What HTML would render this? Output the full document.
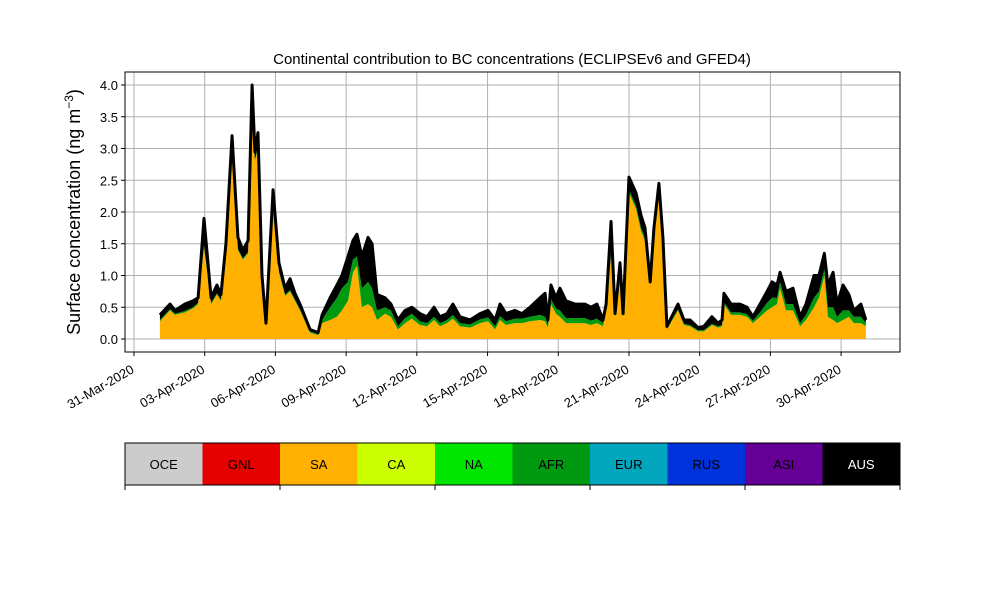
<!DOCTYPE html>
<html><head><meta charset="utf-8"><style>
body{margin:0;background:#fff;font-family:"Liberation Sans","DejaVu Sans",sans-serif}
</style></head><body>
<svg id="chart" width="1000" height="600" xmlns="http://www.w3.org/2000/svg" font-family="Liberation Sans, DejaVu Sans, sans-serif">
<text x="512" y="64" text-anchor="middle" font-size="15">Continental contribution to BC concentrations (ECLIPSEv6 and GFED4)</text>
<text transform="translate(80,212) rotate(-90)" text-anchor="middle" font-size="18">Surface concentration (ng m<tspan baseline-shift="super" font-size="12">−3</tspan>)</text>
<g id="grid"></g>
<g id="areas"></g>
<rect x="125" y="72" width="775" height="280" fill="none" stroke="#000" stroke-width="1"/>
<g id="axes"></g>
<g id="legend"></g>
</svg>
<script>
const days=[1.10,1.53,1.74,2.16,2.50,2.72,2.97,3.27,3.52,3.69,3.90,4.16,4.41,4.62,4.84,5.01,5.13,5.26,5.43,5.60,5.90,6.15,6.41,6.62,6.83,7.04,7.47,7.81,7.98,8.32,8.61,8.82,9.08,9.29,9.46,9.67,9.93,10.10,10.31,10.65,10.90,11.20,11.50,11.79,12.13,12.43,12.73,12.98,13.28,13.53,13.83,14.26,14.68,15.02,15.32,15.53,15.78,16.16,16.46,16.80,17.23,17.44,17.56,17.69,17.90,18.07,18.33,18.71,19.13,19.39,19.64,19.90,20.03,20.24,20.41,20.62,20.75,21.00,21.30,21.51,21.68,21.90,22.06,22.27,22.44,22.61,23.08,23.33,23.59,23.93,24.18,24.52,24.78,24.95,25.03,25.33,25.71,26.01,26.26,26.56,26.86,27.07,27.28,27.41,27.66,27.96,28.26,28.51,28.85,29.06,29.29,29.44,29.66,29.83,30.08,30.33,30.54,30.84,31.05];
const total=[.38,.55,.45,.55,.6,.65,1.9,.65,.85,.7,1.5,3.2,1.6,1.4,1.55,4.0,2.95,3.25,1.0,.25,2.35,1.2,.8,.95,.72,.55,.15,.1,.38,.65,.85,1.0,1.3,1.55,1.65,1.3,1.6,1.5,.7,.65,.55,.3,.45,.5,.4,.35,.5,.35,.4,.55,.35,.3,.4,.45,.3,.55,.4,.45,.4,.5,.65,.72,.3,.85,.65,.8,.6,.55,.55,.5,.55,.3,.55,1.85,.4,1.2,.4,2.55,2.3,1.95,1.75,.9,1.75,2.45,1.6,.2,.55,.3,.3,.18,.2,.35,.25,.3,.72,.55,.55,.5,.35,.55,.75,.9,.85,1.05,.75,.8,.35,.55,1.0,1.0,1.35,.85,1.05,.55,.85,.7,.45,.55,.3];
const sa=[.28,.45,.38,.42,.48,.55,1.45,.55,.7,.6,1.3,2.85,1.4,1.25,1.35,3.4,2.8,3.0,.9,.2,2.05,1.05,.68,.75,.6,.45,.1,.06,.25,.3,.35,.45,.6,1.05,1.15,.5,.55,.5,.3,.4,.35,.15,.25,.32,.22,.2,.3,.2,.25,.32,.2,.18,.25,.28,.15,.3,.22,.25,.25,.28,.3,.28,.18,.55,.4,.35,.25,.25,.25,.22,.25,.2,.45,1.3,.35,1.0,.35,2.3,2.05,1.7,1.55,.85,1.6,2.25,1.5,.15,.45,.22,.2,.12,.12,.22,.18,.2,.55,.38,.38,.35,.25,.35,.45,.5,.55,.8,.45,.45,.2,.3,.5,.65,1.0,.35,.3,.25,.3,.35,.25,.25,.2];
const afr=[.02,.02,.02,.02,.02,.02,.03,.02,.02,.02,.02,.03,.02,.02,.02,.03,.03,.03,.02,.03,.03,.02,.02,.02,.02,.02,.02,.02,.05,.2,.3,.35,.3,.2,.15,.3,.35,.3,.15,.1,.1,.05,.08,.08,.06,.05,.05,.05,.05,.06,.05,.05,.06,.06,.05,.06,.06,.07,.07,.07,.08,.07,.05,.08,.08,.1,.08,.08,.08,.07,.07,.05,.05,.05,.03,.05,.03,.05,.05,.05,.05,.03,.03,.03,.03,.02,.02,.02,.02,.02,.02,.02,.02,.02,.03,.04,.04,.04,.04,.07,.12,.15,.1,.1,.1,.1,.05,.08,.15,.1,.1,.15,.2,.1,.15,.1,.1,.1,.05];
const yTicks=[0,0.5,1,1.5,2,2.5,3,3.5,4];
const xTickDays=[0,3,6,9,12,15,18,21,24,27,30];
const xTickLabels=["31-Mar-2020","03-Apr-2020","06-Apr-2020","09-Apr-2020","12-Apr-2020","15-Apr-2020","18-Apr-2020","21-Apr-2020","24-Apr-2020","27-Apr-2020","30-Apr-2020"];
const regions=["OCE","GNL","SA","CA","NA","AFR","EUR","RUS","ASI","AUS"];
const regionColors=["#cccccc","#e60000","#ffb000","#ccff00","#00e600","#009a10","#00a5be","#0032dc","#640096","#000000"];

const NS="http://www.w3.org/2000/svg";
const X=d=>134+d*23.57;
const Y=v=>339-v*63.5;
function mk(tag,attrs,parent){const e=document.createElementNS(NS,tag);for(const k in attrs)e.setAttribute(k,attrs[k]);parent.appendChild(e);return e;}
const grid=document.getElementById('grid'),axes=document.getElementById('axes'),areas=document.getElementById('areas'),legend=document.getElementById('legend');
yTicks.forEach(v=>{
  const l=mk('line',{x1:125,x2:900,y1:Y(v),y2:Y(v),stroke:'#b0b0b0','stroke-width':1},grid);
  
  
  const t=mk('line',{x1:121,x2:125,y1:Y(v),y2:Y(v),stroke:'#000'},axes);
  
  
  const tx=mk('text',{x:118,y:Y(v)+5,'text-anchor':'end','font-size':13},axes);
  tx.textContent=v.toFixed(1);
  
  
});
xTickDays.forEach((d,i)=>{
  const l=mk('line',{x1:X(d),x2:X(d),y1:72,y2:352,stroke:'#b0b0b0','stroke-width':1},grid);
  
  
  const t=mk('line',{x1:X(d),x2:X(d),y1:352,y2:356,stroke:'#000'},axes);
  
  
  const tx=mk('text',{transform:`translate(${X(d)+1},${372}) rotate(-30)`,'text-anchor':'end','font-size':13},axes);
  tx.textContent=xTickLabels[i];
  
  
});
function band(lo,hi,color,name){
  let p='M'+X(days[0])+','+Y(hi[0]);
  for(let i=1;i<days.length;i++)p+=' L'+X(days[i])+','+Y(hi[i]);
  for(let i=days.length-1;i>=0;i--)p+=' L'+X(days[i])+','+Y(lo[i]);
  const e=mk('path',{d:p+'Z',fill:color},areas);
  
  
}
const zero=days.map(()=>0);
const saTop=sa.slice();
const afrTop=sa.map((v,i)=>v+afr[i]);
const totTop=total.map((v,i)=>Math.max(v,afrTop[i]));
band(zero,saTop,'#ffb000','area-sa');
band(saTop,afrTop,'#009a10','area-afr');
band(afrTop,totTop,'#000000','area-aus');
let tl='M'+X(days[0])+','+Y(totTop[0]);
for(let i=1;i<days.length;i++)tl+=' L'+X(days[i])+','+Y(totTop[i]);
const topLine=mk('path',{d:tl,fill:'none',stroke:'#000','stroke-width':3,'stroke-linejoin':'round'},areas);


const w=77.5;
regions.forEach((r,i)=>{
  const x=125+i*w;
  const rc=mk('rect',{x:x,y:443,width:w,height:42,fill:regionColors[i]},legend);
  
  
  const t=mk('text',{x:x+w/2,y:469,'text-anchor':'middle','font-size':13,fill:r==='AUS'?'#fff':'#000'},legend);
  t.textContent=r;
  
  
});
const fr=mk('rect',{x:125,y:443,width:775,height:42,fill:'none',stroke:'#000'},legend);


[0,2,4,6,8,10].forEach(k=>{
  const t=mk('line',{x1:125+k*w,x2:125+k*w,y1:485,y2:490,stroke:'#000'},legend);
  
  
});
</script>
</body></html>
